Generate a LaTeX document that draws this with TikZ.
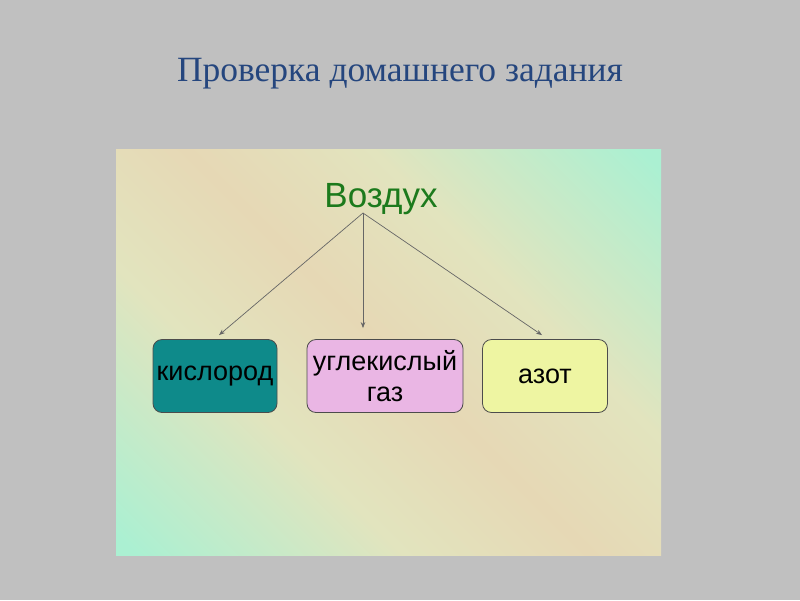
\documentclass[tikz,border=0pt]{standalone}
\usepackage{fontspec}
\setmainfont{Liberation Serif}
\newfontfamily\arialfont{Liberation Sans}
\usetikzlibrary{arrows.meta}
\definecolor{slidegrey}{HTML}{C0C0C0}
\definecolor{mintbg}{HTML}{ABF0D2}
\definecolor{tanbg}{HTML}{E6D8B5}
\definecolor{paleyel}{HTML}{E2E4BE}
\definecolor{titleblue}{HTML}{25467E}
\definecolor{airgreen}{HTML}{1C7A1C}
\definecolor{oxteal}{HTML}{0E8A8A}
\definecolor{copink}{HTML}{EAB6E4}
\definecolor{nyellow}{HTML}{EEF5A2}
\pgfdeclarehorizontalshading{airshade}{100bp}{color(0bp)=(mintbg); color(16bp)=(mintbg); color(36bp)=(paleyel); color(50bp)=(tanbg); color(64bp)=(paleyel); color(84bp)=(mintbg); color(100bp)=(mintbg)}
\begin{document}
\begin{tikzpicture}[x=1pt,y=-1pt,
  box/.style={draw=black!70,line width=0.8pt,rounded corners=9pt,minimum width=124pt,minimum height=73pt,align=center,inner sep=1pt,font=\arialfont\fontsize{27}{31}\selectfont},
  arr/.style={-{Stealth[length=6pt,width=4.5pt]},draw=black!60,line width=0.7pt}]
  \fill[slidegrey] (0,0) rectangle (800,600);
  \shade[shading=airshade,shading angle=45] (116,149) rectangle (661,555);
  \node[font=\fontsize{35.5}{40}\selectfont,text=titleblue] (title) at (400,74) {Проверка домашнего задания};
  \node[font=\arialfont\fontsize{35}{40}\selectfont,text=airgreen] (air) at (381,199) {Воздух};
  \coordinate (fork) at (363,213);
  \node[box,fill=oxteal] (oxygen) at (215,376) {кислород};
  \node[box,fill=copink,minimum width=156pt] (dioxide) at (385,376) {углекислый\\газ};
  \node[box,fill=nyellow,minimum width=125pt] (nitrogen) at (545,376) {азот};
  \draw[arr] (fork) -- ([xshift=4pt,yshift=4pt]oxygen.north);
  \draw[arr] (fork) -- ([xshift=-22pt,yshift=11pt]dioxide.north);
  \draw[arr] (fork) -- ([xshift=-3pt,yshift=4pt]nitrogen.north);
\end{tikzpicture}
\end{document}
